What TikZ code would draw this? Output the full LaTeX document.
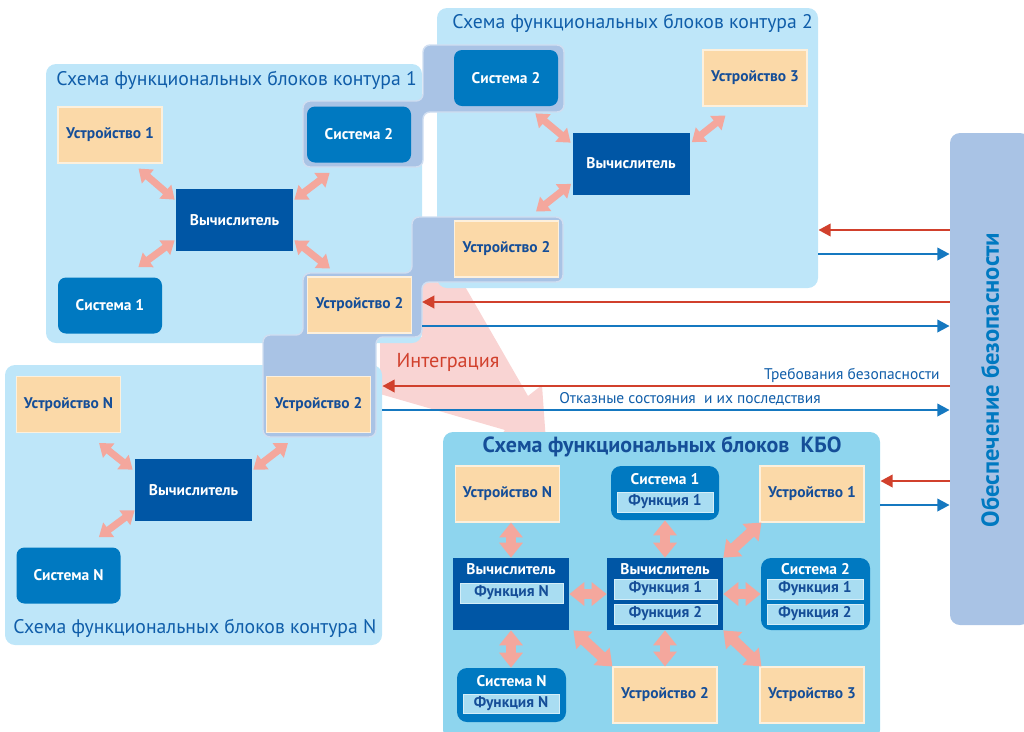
\documentclass[tikz,border=0pt]{standalone}
\usepackage{fontspec}
\setmainfont{PT Sans}
\usetikzlibrary{arrows.meta}

\definecolor{panelblue}{HTML}{BEE6F9}
\definecolor{kboblue}{HTML}{8ED5EE}
\definecolor{stepgray}{HTML}{A9C3E5}
\definecolor{peach}{HTML}{FBD9A8}
\definecolor{sysblue}{HTML}{0079C1}
\definecolor{calcblue}{HTML}{0056A5}
\definecolor{funcblue}{HTML}{A9DDF2}
\definecolor{salmon}{HTML}{F4A79D}
\definecolor{reqred}{HTML}{D1402C}
\definecolor{failblue}{HTML}{1578C0}
\definecolor{titleblue}{HTML}{0F5DA9}
\definecolor{navy}{HTML}{154E98}
\definecolor{pinkfill}{HTML}{F9D4D3}

\tikzset{
  sz/.style 2 args={minimum width=#1*0.02cm, minimum height=#2*0.02cm},
  panel/.style={fill=panelblue, rounded corners=0.2cm, inner sep=0pt},
  ptitle/.style={text=titleblue, inner sep=0pt, font=\fontsize{11.2}{12}\selectfont},
  ktitle/.style={text=navy, inner sep=0pt, font=\bfseries\fontsize{12.5}{14}\selectfont},
  boxfont/.style={font=\bfseries\fontsize{8.8}{10}\selectfont},
  device/.style={boxfont, fill=peach, draw=white!60!peach, line width=0.6pt, text=navy, sz={104}{56}},
  sysbox/.style={boxfont, fill=sysblue, rounded corners=0.16cm, text=white, sz={104}{56}},
  calc/.style={boxfont, fill=calcblue, text=white, sz={117}{62}},
  ksys/.style={fill=sysblue, rounded corners=0.2cm},
  kcalc/.style={fill=calcblue, sz={116}{72}},
  ktxt/.style={boxfont, text=white, inner sep=0pt},
  func/.style={boxfont, fill=funcblue, draw=white!50!funcblue, line width=0.5pt, text=navy, inner sep=0pt},
  stepblock/.style={fill=stepgray, draw=stepgray!55!white, line width=0.8pt, rounded corners=0.14cm},
  link/.style={draw=salmon, line width=4pt, {Triangle[length=7pt,width=10pt]}-{Triangle[length=7pt,width=10pt]}},
  biglink/.style={draw=salmon, line width=6pt, {Triangle[length=8.5pt,width=13pt]}-{Triangle[length=8.5pt,width=13pt]}},
  reqarr/.style={draw=reqred, line width=1.6pt, -{Triangle[length=7pt,width=7pt]}},
  failarr/.style={draw=failblue, line width=1.6pt, -{Triangle[length=7pt,width=7pt]}},
  lbl/.style={text=titleblue, inner sep=0pt, font=\fontsize{8.8}{10}\selectfont},
}

\begin{document}
\begin{tikzpicture}[x=0.02cm, y=-0.02cm]
\useasboundingbox (0,0) rectangle (1024,731);

% integration funnel
\fill[pinkfill] (412,282) -- (463,283) -- (528,396) -- (542,385) -- (548,470) -- (488,452) -- (505,430) -- (380,394) -- (380,337) -- (422,337) -- cycle;

% panels
\node[panel, sz={376}{279}] (p1) at (234,203.5) {};
\node[panel, sz={381}{280}] (p2) at (627.5,148) {};
\node[panel, sz={377}{280}] (pN) at (193.5,505) {};
\node[panel, fill=kboblue, sz={437}{308}] (pK) at (661.5,586) {};
\node[panel, fill=stepgray, sz={80}{492}] (safety) at (990,379) {};

\node[ptitle, anchor=west] (t1) at (56,80) {Схема функциональных блоков контура 1};
\node[ptitle, anchor=west] (t2) at (452,23) {Схема функциональных блоков контура 2};
\node[ptitle, anchor=west] (tN) at (13,628) {Схема функциональных блоков контура N};
\node[ktitle] (tK) at (662,447) {Схема функциональных блоков\ \ КБО};

% shared blocks
\filldraw[stepblock] (303,167) -- (303,101) -- (423,101) -- (423,45) -- (564,45) -- (564,112) -- (423,112) -- (423,167) -- cycle;
\filldraw[stepblock] (412,217) -- (563,217) -- (563,282) -- (422,282) coordinate (stepmid) -- (422,337) -- (376,337) -- (376,437) -- (263,437) -- (263,335) -- (303,335) -- (303,273) -- (412,273) -- cycle;

% contour 1
\node[device] (u1) at (110,135) {Устройство 1};
\node[sysbox] (s12) at (359,134.5) {Система 2};
\node[calc] (v1) at (234.5,220) {Вычислитель};
\node[sysbox] (s1) at (110,305.5) {Система 1};
\node[device] (u12) at (359.5,305) {Устройство 2};
\draw[link] ([shift={(-24,5)}]u1.south east) -- ([shift={(-1,11)}]v1.north west);
\draw[link] ([shift={(23,10)}]s12.south west) -- ([shift={(1,11)}]v1.north east);
\draw[link] ([shift={(-24,-10)}]s1.north east) -- ([shift={(-1,-11)}]v1.south west);
\draw[link] ([shift={(23,-8)}]u12.north west) -- ([shift={(1,-11)}]v1.south east);

% contour 2
\node[sysbox] (s22) at (506,78) {Система 2};
\node[device] (u3) at (755,78) {Устройство 3};
\node[calc] (v2) at (631,163.5) {Вычислитель};
\node[device] (u22) at (506.5,249) {Устройство 2};
\draw[link] ([shift={(-23,7)}]s22.south east) -- ([shift={(-1.5,10.5)}]v2.north west);
\draw[link] ([shift={(23,9)}]u3.south west) -- ([shift={(2,10)}]v2.north east);
\draw[link] ([shift={(-23,-9)}]u22.north east) -- ([shift={(-1,-11)}]v2.south west);

% contour N
\node[device] (uN) at (68.5,404.5) {Устройство N};
\node[calc] (vN) at (193.5,490) {Вычислитель};
\node[sysbox] (sN) at (68.5,575.5) {Система N};
\node[device] (uN2) at (318.5,404.5) {Устройство 2};
\draw[link] ([shift={(-22,10)}]uN.south east) -- ([shift={(-2,11)}]vN.north west);
\draw[link] ([shift={(22,10)}]uN2.south west) -- ([shift={(1,11)}]vN.north east);
\draw[link] ([shift={(-22,-10)}]sN.north east) -- ([shift={(0,-11)}]vN.south west);

% KBO
\node[device] (kuN) at (507.5,494) {Устройство N};
\node[ksys, sz={108}{54}] (ks1) at (665,493) {};
\node[ktxt] (ks1t) at (665,479) {Система 1};
\node[func, sz={96}{20}] (ks1f) at (665,502) {Функция 1};
\node[device] (ku1) at (812,494) {Устройство 1};
\node[kcalc] (kvL) at (511,594) {};
\node[ktxt] (kvLt) at (511,569) {Вычислитель};
\node[func, sz={103}{20}] (kvLf) at (511.5,593) {Функция N};
\node[kcalc] (kvC) at (665,594) {};
\node[ktxt] (kvCt) at (665,569) {Вычислитель};
\node[func, sz={103}{20}] (kvCf1) at (665.5,589) {Функция 1};
\node[func, sz={103}{20}] (kvCf2) at (665.5,614) {Функция 2};
\node[ksys, sz={109}{72}] (ks2) at (815.5,594) {};
\node[ktxt] (ks2t) at (815.5,569) {Система 2};
\node[func, sz={96}{20}] (ks2f1) at (815,589) {Функция 1};
\node[func, sz={96}{20}] (ks2f2) at (815,614) {Функция 2};
\node[ksys, sz={109}{54}] (ksN) at (511.5,695) {};
\node[ktxt] (ksNt) at (511.5,681) {Система N};
\node[func, sz={96}{19}] (ksNf) at (511,703.5) {Функция N};
\node[device] (ku2) at (665,695) {Устройство 2};
\node[device] (ku3) at (812,695) {Устройство 3};

\draw[biglink] (kvL.north |- kuN.south) -- (kvL.north);
\draw[biglink] (kvL.south) -- (kvL.south |- ksN.north);
\draw[biglink] (ks1.south) -- (kvC.north);
\draw[biglink] (kvC.south) -- (ku2.north);
\draw[biglink] (kvL.east) -- (kvC.west);
\draw[biglink] (kvC.east) -- (ks2.west);
\draw[biglink] (kvC.north east) -- ([shift={(2,0)}]ku1.south west);
\draw[biglink] (kvC.south east) -- ([shift={(2,0)}]ku3.north west);
\draw[biglink] ([shift={(4,0)}]kvL.south east) -- (ku2.north west);

% safety links
\draw[reqarr] (safety.west |- 0,230) -- (p2.east |- 0,230);
\draw[failarr] (p2.east |- 0,254) -- (safety.west |- 0,254);
\draw[reqarr] (safety.west |- 0,302) -- (stepmid |- 0,302);
\draw[failarr] (stepmid |- 0,326) -- (safety.west |- 0,326);
\draw[reqarr] (safety.west |- 0,386) -- (pN.east |- 0,386);
\draw[failarr] (pN.east |- 0,410) -- (safety.west |- 0,410);
\draw[reqarr] (safety.west |- 0,481) -- (pK.east |- 0,481);
\draw[failarr] (pK.east |- 0,505) -- (safety.west |- 0,505);

\node[lbl, anchor=base east] (reqlbl) at (940,379) {Требования безопасности};
\node[lbl, anchor=base] (faillbl) at (690,403) {Отказные состояния\ \ и их последствия};
\node[text=reqred, font=\fontsize{11.5}{13}\selectfont] (integ) at (448,362) {Интеграция};
\node[text=sysblue, rotate=90, font=\bfseries\fontsize{14}{16}\selectfont] (safetxt) at (990,380) {Обеспечение безопасности};

\end{tikzpicture}
\end{document}
